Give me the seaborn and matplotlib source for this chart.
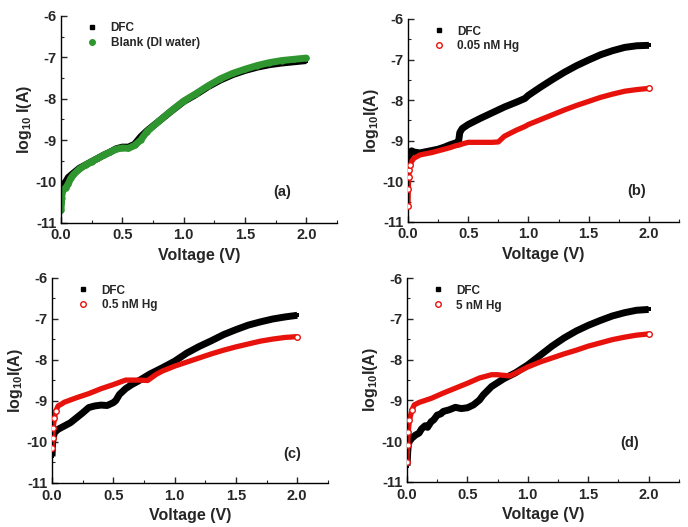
import seaborn as sns
import matplotlib.pyplot as plt
from matplotlib.lines import Line2D
from matplotlib.ticker import MultipleLocator
import pandas as pd

# (a) DFC vs blank
v_a = [0.0, 0.005, 0.01, 0.02, 0.04, 0.06, 0.08, 0.1, 0.15, 0.2, 0.25, 0.3, 0.35, 0.4, 0.45, 0.5,
       0.55, 0.6, 0.65, 0.7, 0.8, 0.9, 1.0, 1.1, 1.2, 1.3, 1.4, 1.5, 1.6, 1.7, 1.8, 1.9, 2.0]
dfc_a = [-10.55, -10.3, -10.2, -10.08, -10.0, -9.9, -9.85, -9.8, -9.68, -9.6, -9.52, -9.44, -9.36,
         -9.29, -9.21, -9.17, -9.17, -9.1, -8.92, -8.78, -8.54, -8.3, -8.07, -7.9, -7.71, -7.55,
         -7.42, -7.32, -7.24, -7.18, -7.14, -7.11, -7.08]
blank_a = [-10.7, -10.4, -10.25, -10.2, -10.15, -10.05, -9.92, -9.84, -9.7, -9.6, -9.52, -9.44,
           -9.36, -9.29, -9.22, -9.19, -9.2, -9.13, -9.0, -8.8, -8.54, -8.29, -8.06, -7.88, -7.69,
           -7.52, -7.39, -7.29, -7.2, -7.13, -7.08, -7.05, -7.02]

# (b) DFC vs 0.05 nM Hg
v_b = [0.0, 0.003, 0.006, 0.01, 0.02, 0.03, 0.05, 0.1, 0.15, 0.2, 0.25, 0.3, 0.35, 0.4, 0.42,
       0.43, 0.45, 0.5, 0.6, 0.7, 0.75, 0.8, 0.9, 0.97, 1.0, 1.1, 1.2, 1.3, 1.4, 1.5, 1.6, 1.7,
       1.8, 1.9, 2.0]
dfc_b = [-9.7, -9.55, -9.45, -9.38, -9.3, -9.25, -9.28, -9.3, -9.27, -9.24, -9.21, -9.16, -9.1,
         -9.05, -9.02, -8.8, -8.7, -8.6, -8.45, -8.31, -8.24, -8.17, -8.05, -7.96, -7.88, -7.68,
         -7.49, -7.31, -7.15, -7.01, -6.88, -6.78, -6.7, -6.66, -6.65]
hg_b = [-10.6, -10.2, -9.9, -9.72, -9.6, -9.51, -9.43, -9.35, -9.32, -9.29, -9.25, -9.21, -9.17,
        -9.12, -9.11, -9.1, -9.08, -9.04, -9.04, -9.04, -9.03, -8.89, -8.74, -8.65, -8.6, -8.48,
        -8.36, -8.24, -8.13, -8.03, -7.93, -7.85, -7.78, -7.74, -7.71]

# (c) DFC vs 0.5 nM Hg
v_c_dfc = [0.0, 0.005, 0.01, 0.02, 0.05, 0.1, 0.15, 0.2, 0.25, 0.3, 0.35, 0.4, 0.45, 0.5, 0.52,
           0.55, 0.6, 0.65, 0.7, 0.8, 0.9, 1.0, 1.1, 1.2, 1.3, 1.4, 1.5, 1.6, 1.7, 1.8, 1.9, 2.0]
dfc_c = [-10.35, -10.0, -9.9, -9.77, -9.69, -9.61, -9.53, -9.41, -9.29, -9.16, -9.12, -9.1,
         -9.11, -9.04, -8.99, -8.84, -8.7, -8.6, -8.52, -8.34, -8.19, -8.03, -7.83, -7.67, -7.53,
         -7.38, -7.26, -7.15, -7.07, -7.0, -6.95, -6.91]
v_c_hg = [0.0, 0.005, 0.01, 0.02, 0.03, 0.05, 0.08, 0.1, 0.2, 0.3, 0.4, 0.5, 0.6, 0.7, 0.78,
          0.85, 0.9, 1.0, 1.1, 1.2, 1.3, 1.4, 1.5, 1.6, 1.7, 1.8, 1.9, 2.0]
hg_c = [-10.15, -9.9, -9.65, -9.41, -9.25, -9.12, -9.07, -9.03, -8.92, -8.82, -8.7, -8.6, -8.49,
        -8.49, -8.5, -8.35, -8.27, -8.15, -8.05, -7.95, -7.85, -7.76, -7.68, -7.61, -7.54, -7.49,
        -7.45, -7.43]

# (d) DFC vs 5 nM Hg
v_d_dfc = [0.0, 0.005, 0.01, 0.02, 0.03, 0.05, 0.07, 0.1, 0.12, 0.15, 0.17, 0.2, 0.22, 0.25,
           0.28, 0.3, 0.35, 0.4, 0.45, 0.5, 0.55, 0.6, 0.63, 0.7, 0.8, 0.9, 1.0, 1.1, 1.2, 1.3,
           1.4, 1.5, 1.6, 1.7, 1.8, 1.9, 2.0]
dfc_d = [-10.6, -10.3, -10.1, -10.0, -9.95, -9.9, -9.85, -9.8, -9.7, -9.62, -9.66, -9.52, -9.48,
         -9.36, -9.33, -9.27, -9.23, -9.17, -9.2, -9.18, -9.11, -8.99, -8.87, -8.66, -8.47,
         -8.32, -8.13, -7.9, -7.67, -7.47, -7.3, -7.16, -7.04, -6.93, -6.85, -6.79, -6.77]
v_d_hg = [0.0, 0.005, 0.01, 0.02, 0.04, 0.06, 0.1, 0.2, 0.3, 0.4, 0.5, 0.6, 0.7, 0.75, 0.85,
          0.9, 1.0, 1.1, 1.2, 1.3, 1.4, 1.5, 1.6, 1.7, 1.8, 1.9, 2.0]
hg_d = [-10.5, -10.1, -9.77, -9.48, -9.24, -9.11, -9.05, -8.95, -8.82, -8.7, -8.58, -8.45, -8.37,
        -8.37, -8.4, -8.33, -8.18, -8.06, -7.96, -7.86, -7.77, -7.67, -7.59, -7.51, -7.45, -7.4,
        -7.37]

sns.set_theme(style="ticks")
plt.rcParams["font.family"] = ["Liberation Sans", "DejaVu Sans"]
plt.rcParams["font.weight"] = "bold"
plt.rcParams["mathtext.fontset"] = "custom"
plt.rcParams["mathtext.bf"] = "Liberation Sans:bold"
plt.rcParams["mathtext.rm"] = "Liberation Sans:bold"
plt.rcParams["mathtext.default"] = "bf"

fig = plt.figure(figsize=(6.88, 5.27), dpi=100)

panels = [
    dict(rect=[0.0887, 0.577, 0.401, 0.393], tag="(a)", tagpos=(0.80, 0.15),
         ylabel="log$_{10}$ I(A)",
         dfc=(v_a, dfc_a), other=(v_a, blank_a), other_label="Blank (DI water)",
         other_color="#2f962f", filled=True),
    dict(rect=[0.593, 0.579, 0.394, 0.385], tag="(b)", tagpos=(0.845, 0.15),
         ylabel="log$_{10}$I(A)",
         dfc=(v_b, dfc_b), other=(v_b, hg_b), other_label="0.05 nM Hg",
         other_color="#e8120c", filled=False),
    dict(rect=[0.0756, 0.0835, 0.401, 0.389], tag="(c)", tagpos=(0.87, 0.14),
         ylabel="log$_{10}$I(A)",
         dfc=(v_c_dfc, dfc_c), other=(v_c_hg, hg_c), other_label="0.5 nM Hg",
         other_color="#e8120c", filled=False),
    dict(rect=[0.5916, 0.0854, 0.395, 0.387], tag="(d)", tagpos=(0.82, 0.19),
         ylabel="log$_{10}$I(A)",
         dfc=(v_d_dfc, dfc_d), other=(v_d_hg, hg_d), other_label="5 nM Hg",
         other_color="#e8120c", filled=False),
]

for p in panels:
    ax = fig.add_axes(p["rect"])
    d = pd.DataFrame({"V": p["dfc"][0], "logI": p["dfc"][1]})
    o = pd.DataFrame({"V": p["other"][0], "logI": p["other"][1]})
    last = len(o) - 1

    sns.lineplot(data=d, x="V", y="logI", ax=ax, color="black", linewidth=5,
                 sort=False, estimator=None, marker="s", markersize=3.5,
                 markeredgewidth=0, solid_capstyle="butt")
    if p["filled"]:
        sns.lineplot(data=o, x="V", y="logI", ax=ax, color=p["other_color"], linewidth=5,
                     sort=False, estimator=None, marker="o", markersize=4.5,
                     markeredgewidth=0)
    else:
        sns.lineplot(data=o, x="V", y="logI", ax=ax, color=p["other_color"], linewidth=3.8,
                     sort=False, estimator=None, solid_capstyle="butt")
        # open circles on the steep start and at the end of the sweep
        sns.scatterplot(data=o.iloc[list(range(0, 5)) + [last]], x="V", y="logI", ax=ax,
                        marker="o", s=16, facecolor="white",
                        edgecolor=p["other_color"], linewidth=1.0, zorder=5)

    ax.set_xlim(0, 2.25)
    ax.set_ylim(-11, -6)
    ax.xaxis.set_minor_locator(MultipleLocator(0.25))
    ax.yaxis.set_minor_locator(MultipleLocator(0.5))
    ax.set_xticks([0.0, 0.5, 1.0, 1.5, 2.0])
    ax.set_xticklabels(["0.0", "0.5", "1.0", "1.5", "2.0"])
    ax.set_yticks([-11, -10, -9, -8, -7, -6])
    ax.set_yticklabels(["-11", "-10", "-9", "-8", "-7", "-6"])
    ax.tick_params(which="major", direction="in", length=4, width=1, labelsize=10.5)
    ax.tick_params(axis="y", which="major", pad=3)
    ax.tick_params(axis="x", which="major", pad=4)
    ax.tick_params(which="minor", direction="in", length=2.5, width=0.8)
    for lab in ax.get_xticklabels() + ax.get_yticklabels():
        lab.set_fontweight("bold")
    sns.despine(ax=ax)
    for s in ["left", "bottom"]:
        ax.spines[s].set_linewidth(1.0)
        ax.spines[s].set_color("black")

    ax.set_xlabel("Voltage (V)", fontsize=11.5, fontweight="bold", labelpad=4)
    ax.set_ylabel(p["ylabel"], fontsize=11.5, fontweight="bold", labelpad=1)

    handles = [
        Line2D([], [], linestyle="none", marker="s", color="black", markersize=3.5),
        Line2D([], [], linestyle="none", marker="o", markersize=4,
               markerfacecolor=p["other_color"] if p["filled"] else "none",
               markeredgecolor=p["other_color"], markeredgewidth=1),
    ]
    ax.legend(handles, ["DFC", p["other_label"]], loc="upper left",
              bbox_to_anchor=(0.03, 1.02), frameon=False, handletextpad=0.6,
              labelspacing=0.25, prop={"size": 8.5, "weight": "bold"})
    ax.text(p["tagpos"][0], p["tagpos"][1], p["tag"], transform=ax.transAxes,
            fontsize=10.5, fontweight="bold", ha="center", va="center")

fig.savefig("out.png", dpi=100)
